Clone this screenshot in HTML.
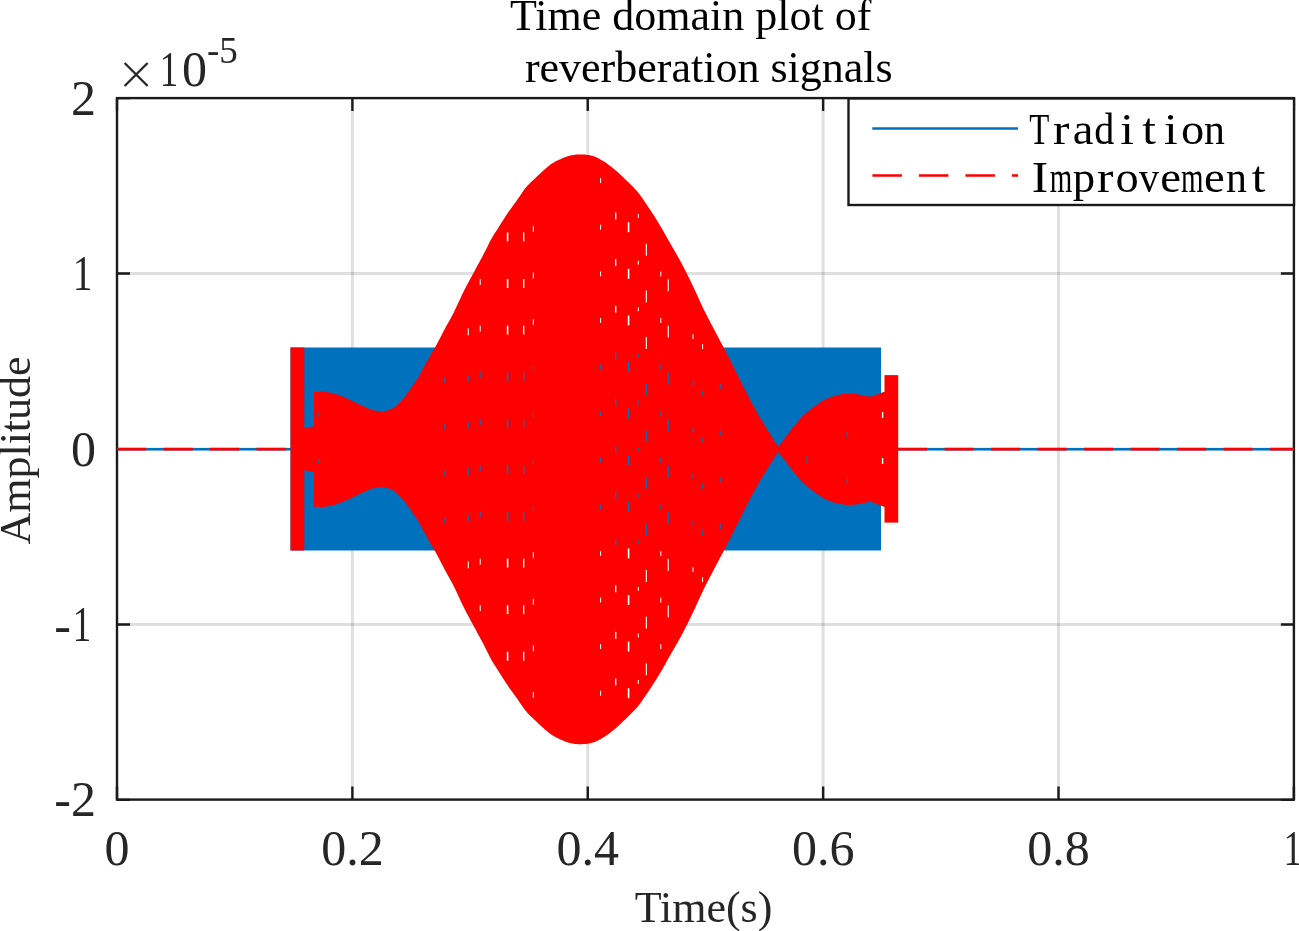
<!DOCTYPE html>
<html><head><meta charset="utf-8"><style>
html,body{margin:0;padding:0;background:#fff;width:1299px;height:931px;overflow:hidden}
svg{position:absolute;left:0;top:0;will-change:transform}
</style></head><body>
<svg width="1299" height="931" viewBox="0 0 1299 931">
<rect x="0" y="0" width="1299" height="931" fill="#fff"/>
<g stroke="rgb(38,38,38)" stroke-opacity="0.15" stroke-width="2.9" fill="none">
<line x1="352.38" y1="98.1" x2="352.38" y2="799.6"/>
<line x1="587.76" y1="98.1" x2="587.76" y2="799.6"/>
<line x1="823.14" y1="98.1" x2="823.14" y2="799.6"/>
<line x1="1058.52" y1="98.1" x2="1058.52" y2="799.6"/>
<line x1="117.0" y1="624.45" x2="1293.9" y2="624.45"/>
<line x1="117.0" y1="449.00" x2="1293.9" y2="449.00"/>
<line x1="117.0" y1="273.55" x2="1293.9" y2="273.55"/>
</g>
<!-- axes -->
<rect x="117.0" y="98.1" width="1176.9" height="701.5" fill="none" stroke="#1a1a1a" stroke-width="2.4"/>
<path d="M117.00 799.6V786.6M117.00 98.1V111.1M352.38 799.6V786.6M352.38 98.1V111.1M587.76 799.6V786.6M587.76 98.1V111.1M823.14 799.6V786.6M823.14 98.1V111.1M1058.52 799.6V786.6M1058.52 98.1V111.1M1293.90 799.6V786.6M1293.90 98.1V111.1M117.0 799.90H130.0M1293.9 799.90H1280.9M117.0 624.45H130.0M1293.9 624.45H1280.9M117.0 273.55H130.0M1293.9 273.55H1280.9M117.0 98.10H130.0M1293.9 98.10H1280.9" stroke="#1a1a1a" stroke-width="2.4" fill="none"/>
<!-- blue signal -->
<line x1="117.0" y1="449.2" x2="1293.9" y2="449.2" stroke="#0072BD" stroke-width="2.4"/>
<rect x="290.5" y="347.5" width="590.5" height="203" fill="#0072BD"/>
<!-- red signal -->
<line x1="117.0" y1="449.2" x2="291" y2="449.2" stroke="#FF0000" stroke-width="2.7" stroke-dasharray="29.3 17.2"/>
<line x1="898.1" y1="449.2" x2="1293.9" y2="449.2" stroke="#FF0000" stroke-width="2.7" stroke-dasharray="29 17.5"/>
<rect x="290.5" y="347.5" width="13.8" height="203" fill="#FF0000"/>
<rect x="884.5" y="375.1" width="13.7" height="147.5" fill="#FF0000"/>
<polygon points="303.6,428.6 313.9,426.3 313.9,392.0 314.9,391.9 315.9,391.9 316.9,391.8 317.9,391.8 318.9,391.7 319.9,391.6 320.9,391.6 321.9,391.6 322.9,391.6 323.9,391.7 324.9,391.8 325.9,391.9 326.9,392.1 327.9,392.3 328.9,392.5 329.9,392.7 330.9,392.9 331.9,393.1 332.9,393.3 333.9,393.6 334.9,393.8 335.9,394.1 336.9,394.5 337.9,394.8 338.9,395.2 339.9,395.6 340.9,396.0 341.9,396.4 342.9,396.8 343.9,397.2 344.9,397.6 345.9,398.0 346.9,398.5 347.9,398.9 348.9,399.4 349.9,399.9 350.9,400.3 351.9,400.8 352.9,401.3 353.9,401.8 354.9,402.3 355.9,402.8 356.9,403.3 357.9,403.8 358.9,404.3 359.9,404.7 360.9,405.2 361.9,405.7 362.9,406.1 363.9,406.6 364.9,407.0 365.9,407.5 366.9,407.9 367.9,408.3 368.9,408.7 369.9,409.1 370.9,409.5 371.9,409.8 372.9,410.0 373.9,410.3 374.9,410.5 375.9,410.7 376.9,410.9 377.9,411.1 378.9,411.3 379.9,411.4 380.9,411.5 381.9,411.6 382.9,411.5 383.9,411.4 384.9,411.2 385.9,410.9 386.9,410.6 387.9,410.3 388.9,409.9 389.9,409.6 390.9,409.2 391.9,408.8 392.9,408.3 393.9,407.7 394.9,407.1 395.9,406.3 396.9,405.4 397.9,404.4 398.9,403.4 399.9,402.4 400.9,401.3 401.9,400.1 402.9,399.0 403.9,397.8 404.9,396.5 405.9,395.2 406.9,393.9 407.9,392.5 408.9,391.0 409.9,389.6 410.9,388.1 411.9,386.7 412.9,385.3 413.9,383.9 414.9,382.5 415.9,381.1 416.9,379.6 417.9,378.0 418.9,376.4 419.9,374.6 420.9,372.7 421.9,370.8 422.9,368.9 423.9,367.0 424.9,365.1 425.9,363.3 426.9,361.4 427.9,359.7 428.9,357.9 429.9,356.2 430.9,354.5 431.9,352.8 432.9,351.1 433.9,349.4 434.9,347.7 435.9,345.9 436.9,344.1 437.9,342.2 438.9,340.3 439.9,338.3 440.9,336.4 441.9,334.4 442.9,332.5 443.9,330.6 444.9,328.7 445.9,326.8 446.9,325.0 447.9,323.2 448.9,321.5 449.9,319.7 450.9,317.9 451.9,316.1 452.9,314.2 453.9,312.2 454.9,310.1 455.9,308.0 456.9,305.8 457.9,303.7 458.9,301.5 459.9,299.4 460.9,297.2 461.9,295.1 462.9,293.1 463.9,291.0 464.9,289.0 465.9,287.1 466.9,285.1 467.9,283.3 468.9,281.4 469.9,279.6 470.9,277.7 471.9,275.9 472.9,274.0 473.9,272.2 474.9,270.3 475.9,268.5 476.9,266.6 477.9,264.7 478.9,262.9 479.9,261.1 480.9,259.2 481.9,257.4 482.9,255.5 483.9,253.6 484.9,251.7 485.9,249.7 486.9,247.7 487.9,245.7 488.9,243.6 489.9,241.6 490.9,239.7 491.9,237.9 492.9,236.2 493.9,234.6 494.9,233.0 495.9,231.5 496.9,229.9 497.9,228.4 498.9,226.8 499.9,225.2 500.9,223.6 501.9,222.0 502.9,220.4 503.9,218.9 504.9,217.3 505.9,215.8 506.9,214.3 507.9,212.8 508.9,211.3 509.9,209.9 510.9,208.5 511.9,207.2 512.9,205.8 513.9,204.4 514.9,203.1 515.9,201.7 516.9,200.3 517.9,198.8 518.9,197.4 519.9,195.9 520.9,194.4 521.9,193.0 522.9,191.5 523.9,190.1 524.9,188.8 525.9,187.5 526.9,186.3 527.9,185.2 528.9,184.2 529.9,183.2 530.9,182.2 531.9,181.3 532.9,180.3 533.9,179.4 534.9,178.4 535.9,177.5 536.9,176.5 537.9,175.6 538.9,174.7 539.9,173.7 540.9,172.8 541.9,171.9 542.9,171.0 543.9,170.1 544.9,169.2 545.9,168.3 546.9,167.5 547.9,166.6 548.9,165.8 549.9,165.0 550.9,164.3 551.9,163.6 552.9,163.0 553.9,162.4 554.9,161.8 555.9,161.3 556.9,160.8 557.9,160.3 558.9,159.8 559.9,159.4 560.9,158.9 561.9,158.5 562.9,158.1 563.9,157.7 564.9,157.3 565.9,156.9 566.9,156.5 567.9,156.2 568.9,155.9 569.9,155.6 570.9,155.4 571.9,155.2 572.9,155.0 573.9,154.9 574.9,154.7 575.9,154.6 576.9,154.5 577.9,154.4 578.9,154.4 579.9,154.4 580.9,154.4 581.9,154.4 582.9,154.5 583.9,154.5 584.9,154.6 585.9,154.7 586.9,154.8 587.9,154.9 588.9,155.1 589.9,155.3 590.9,155.5 591.9,155.8 592.9,156.0 593.9,156.3 594.9,156.7 595.9,157.1 596.9,157.6 597.9,158.1 598.9,158.6 599.9,159.2 600.9,159.7 601.9,160.3 602.9,160.9 603.9,161.5 604.9,162.1 605.9,162.8 606.9,163.5 607.9,164.2 608.9,164.9 609.9,165.7 610.9,166.5 611.9,167.3 612.9,168.1 613.9,168.9 614.9,169.7 615.9,170.5 616.9,171.4 617.9,172.3 618.9,173.2 619.9,174.2 620.9,175.1 621.9,176.0 622.9,177.0 623.9,178.0 624.9,178.9 625.9,179.9 626.9,180.9 627.9,181.8 628.9,182.8 629.9,183.8 630.9,184.8 631.9,185.8 632.9,186.8 633.9,187.8 634.9,188.9 635.9,189.9 636.9,191.0 637.9,192.2 638.9,193.5 639.9,194.8 640.9,196.2 641.9,197.6 642.9,199.1 643.9,200.5 644.9,202.0 645.9,203.4 646.9,204.9 647.9,206.4 648.9,207.9 649.9,209.4 650.9,210.9 651.9,212.5 652.9,214.0 653.9,215.6 654.9,217.1 655.9,218.7 656.9,220.3 657.9,221.9 658.9,223.5 659.9,225.2 660.9,226.9 661.9,228.6 662.9,230.4 663.9,232.1 664.9,233.9 665.9,235.7 666.9,237.5 667.9,239.3 668.9,241.0 669.9,242.8 670.9,244.6 671.9,246.3 672.9,248.1 673.9,249.8 674.9,251.5 675.9,253.3 676.9,255.0 677.9,256.7 678.9,258.5 679.9,260.3 680.9,262.1 681.9,264.0 682.9,265.9 683.9,267.8 684.9,269.8 685.9,271.8 686.9,273.8 687.9,275.7 688.9,277.7 689.9,279.8 690.9,281.8 691.9,283.9 692.9,286.0 693.9,288.1 694.9,290.2 695.9,292.4 696.9,294.6 697.9,296.8 698.9,299.0 699.9,301.2 700.9,303.4 701.9,305.6 702.9,307.7 703.9,309.8 704.9,311.8 705.9,313.8 706.9,315.8 707.9,317.7 708.9,319.6 709.9,321.5 710.9,323.4 711.9,325.3 712.9,327.2 713.9,329.1 714.9,331.0 715.9,332.9 716.9,334.8 717.9,336.7 718.9,338.6 719.9,340.5 720.9,342.4 721.9,344.3 722.9,346.2 723.9,348.1 724.9,350.0 725.9,351.9 726.9,353.9 727.9,355.8 728.9,357.8 729.9,359.8 730.9,361.8 731.9,363.8 732.9,365.7 733.9,367.7 734.9,369.7 735.9,371.7 736.9,373.7 737.9,375.7 738.9,377.7 739.9,379.7 740.9,381.7 741.9,383.7 742.9,385.7 743.9,387.7 744.9,389.7 745.9,391.7 746.9,393.6 747.9,395.6 748.9,397.5 749.9,399.4 750.9,401.3 751.9,403.1 752.9,405.0 753.9,406.8 754.9,408.6 755.9,410.4 756.9,412.2 757.9,414.0 758.9,415.7 759.9,417.5 760.9,419.2 761.9,420.8 762.9,422.5 763.9,424.1 764.9,425.7 765.9,427.3 766.9,428.9 767.9,430.5 768.9,432.2 769.9,433.8 770.9,435.4 771.9,437.1 772.9,438.7 773.9,440.4 774.9,442.0 775.9,443.4 776.9,444.7 777.9,445.7 778.0,447.5 779.0,445.4 780.0,444.4 781.0,443.2 782.0,442.0 783.0,440.7 784.0,439.3 785.0,438.0 786.0,436.6 787.0,435.3 788.0,433.9 789.0,432.6 790.0,431.2 791.0,429.9 792.0,428.6 793.0,427.4 794.0,426.1 795.0,424.9 796.0,423.7 797.0,422.4 798.0,421.2 799.0,420.1 800.0,418.9 801.0,417.8 802.0,416.7 803.0,415.7 804.0,414.8 805.0,413.9 806.0,413.1 807.0,412.3 808.0,411.5 809.0,410.7 810.0,409.9 811.0,409.1 812.0,408.3 813.0,407.6 814.0,406.8 815.0,406.1 816.0,405.4 817.0,404.7 818.0,404.0 819.0,403.3 820.0,402.6 821.0,402.0 822.0,401.3 823.0,400.7 824.0,400.1 825.0,399.6 826.0,399.1 827.0,398.7 828.0,398.3 829.0,397.9 830.0,397.5 831.0,397.1 832.0,396.7 833.0,396.4 834.0,396.0 835.0,395.7 836.0,395.5 837.0,395.2 838.0,395.0 839.0,394.8 840.0,394.6 841.0,394.4 842.0,394.3 843.0,394.1 844.0,394.0 845.0,393.8 846.0,393.8 847.0,393.7 848.0,393.7 849.0,393.7 850.0,393.7 851.0,393.8 852.0,393.8 853.0,393.8 854.0,393.9 855.0,394.0 856.0,394.1 857.0,394.2 858.0,394.4 859.0,394.6 860.0,394.8 861.0,395.0 862.0,395.2 863.0,395.5 864.0,395.7 865.0,395.9 866.0,396.2 867.0,396.3 868.0,396.5 869.0,396.6 870.0,396.6 871.0,396.5 872.0,396.3 873.0,396.0 874.0,395.7 875.0,395.3 876.0,395.0 877.0,394.6 878.0,394.2 879.0,393.7 880.0,393.3 881.0,392.9 882.0,392.5 883.0,392.2 884.0,391.9 885.0,391.7 885.6,391.3 885.6,507.3 885.0,506.9 884.0,506.7 883.0,506.4 882.0,506.1 881.0,505.7 880.0,505.3 879.0,504.9 878.0,504.4 877.0,504.0 876.0,503.6 875.0,503.3 874.0,502.9 873.0,502.6 872.0,502.3 871.0,502.1 870.0,502.0 869.0,502.0 868.0,502.1 867.0,502.3 866.0,502.4 865.0,502.7 864.0,502.9 863.0,503.1 862.0,503.4 861.0,503.6 860.0,503.8 859.0,504.0 858.0,504.2 857.0,504.4 856.0,504.5 855.0,504.6 854.0,504.7 853.0,504.8 852.0,504.8 851.0,504.8 850.0,504.9 849.0,504.9 848.0,504.9 847.0,504.9 846.0,504.8 845.0,504.8 844.0,504.6 843.0,504.5 842.0,504.3 841.0,504.2 840.0,504.0 839.0,503.8 838.0,503.6 837.0,503.4 836.0,503.1 835.0,502.9 834.0,502.6 833.0,502.2 832.0,501.9 831.0,501.5 830.0,501.1 829.0,500.7 828.0,500.3 827.0,499.9 826.0,499.5 825.0,499.0 824.0,498.5 823.0,497.9 822.0,497.3 821.0,496.6 820.0,496.0 819.0,495.3 818.0,494.6 817.0,493.9 816.0,493.2 815.0,492.5 814.0,491.8 813.0,491.0 812.0,490.3 811.0,489.5 810.0,488.7 809.0,487.9 808.0,487.1 807.0,486.3 806.0,485.5 805.0,484.7 804.0,483.8 803.0,482.9 802.0,481.9 801.0,480.8 800.0,479.7 799.0,478.5 798.0,477.4 797.0,476.2 796.0,474.9 795.0,473.7 794.0,472.5 793.0,471.2 792.0,470.0 791.0,468.7 790.0,467.4 789.0,466.0 788.0,464.7 787.0,463.3 786.0,462.0 785.0,460.6 784.0,459.3 783.0,457.9 782.0,456.6 781.0,455.4 780.0,454.2 779.0,453.2 778.0,451.1 777.9,452.9 776.9,453.9 775.9,455.2 774.9,456.6 773.9,458.2 772.9,459.9 771.9,461.5 770.9,463.2 769.9,464.8 768.9,466.4 767.9,468.1 766.9,469.7 765.9,471.3 764.9,472.9 763.9,474.5 762.9,476.1 761.9,477.8 760.9,479.4 759.9,481.1 758.9,482.9 757.9,484.6 756.9,486.4 755.9,488.2 754.9,490.0 753.9,491.8 752.9,493.6 751.9,495.5 750.9,497.3 749.9,499.2 748.9,501.1 747.9,503.0 746.9,505.0 745.9,506.9 744.9,508.9 743.9,510.9 742.9,512.9 741.9,514.9 740.9,516.9 739.9,518.9 738.9,520.9 737.9,522.9 736.9,524.9 735.9,526.9 734.9,528.9 733.9,530.9 732.9,532.9 731.9,534.8 730.9,536.8 729.9,538.8 728.9,540.8 727.9,542.8 726.9,544.7 725.9,546.7 724.9,548.6 723.9,550.5 722.9,552.4 721.9,554.3 720.9,556.2 719.9,558.1 718.9,560.0 717.9,561.9 716.9,563.8 715.9,565.7 714.9,567.6 713.9,569.5 712.9,571.4 711.9,573.3 710.9,575.2 709.9,577.1 708.9,579.0 707.9,580.9 706.9,582.8 705.9,584.8 704.9,586.8 703.9,588.8 702.9,590.9 701.9,593.0 700.9,595.2 699.9,597.4 698.9,599.6 697.9,601.8 696.9,604.0 695.9,606.2 694.9,608.4 693.9,610.5 692.9,612.6 691.9,614.7 690.9,616.8 689.9,618.8 688.9,620.9 687.9,622.9 686.9,624.8 685.9,626.8 684.9,628.8 683.9,630.8 682.9,632.7 681.9,634.6 680.9,636.5 679.9,638.3 678.9,640.1 677.9,641.9 676.9,643.6 675.9,645.3 674.9,647.1 673.9,648.8 672.9,650.5 671.9,652.3 670.9,654.0 669.9,655.8 668.9,657.6 667.9,659.3 666.9,661.1 665.9,662.9 664.9,664.7 663.9,666.5 662.9,668.2 661.9,670.0 660.9,671.7 659.9,673.4 658.9,675.1 657.9,676.7 656.9,678.3 655.9,679.9 654.9,681.5 653.9,683.0 652.9,684.6 651.9,686.1 650.9,687.7 649.9,689.2 648.9,690.7 647.9,692.2 646.9,693.7 645.9,695.2 644.9,696.6 643.9,698.1 642.9,699.5 641.9,701.0 640.9,702.4 639.9,703.8 638.9,705.1 637.9,706.4 636.9,707.6 635.9,708.7 634.9,709.7 633.9,710.8 632.9,711.8 631.9,712.8 630.9,713.8 629.9,714.8 628.9,715.8 627.9,716.8 626.9,717.7 625.9,718.7 624.9,719.7 623.9,720.6 622.9,721.6 621.9,722.6 620.9,723.5 619.9,724.4 618.9,725.4 617.9,726.3 616.9,727.2 615.9,728.1 614.9,728.9 613.9,729.7 612.9,730.5 611.9,731.3 610.9,732.1 609.9,732.9 608.9,733.7 607.9,734.4 606.9,735.1 605.9,735.8 604.9,736.5 603.9,737.1 602.9,737.7 601.9,738.3 600.9,738.9 599.9,739.4 598.9,740.0 597.9,740.5 596.9,741.0 595.9,741.5 594.9,741.9 593.9,742.3 592.9,742.6 591.9,742.8 590.9,743.1 589.9,743.3 588.9,743.5 587.9,743.7 586.9,743.8 585.9,743.9 584.9,744.0 583.9,744.1 582.9,744.1 581.9,744.2 580.9,744.2 579.9,744.2 578.9,744.2 577.9,744.2 576.9,744.1 575.9,744.0 574.9,743.9 573.9,743.7 572.9,743.6 571.9,743.4 570.9,743.2 569.9,743.0 568.9,742.7 567.9,742.4 566.9,742.1 565.9,741.7 564.9,741.3 563.9,740.9 562.9,740.5 561.9,740.1 560.9,739.7 559.9,739.2 558.9,738.8 557.9,738.3 556.9,737.8 555.9,737.3 554.9,736.8 553.9,736.2 552.9,735.6 551.9,735.0 550.9,734.3 549.9,733.6 548.9,732.8 547.9,732.0 546.9,731.1 545.9,730.3 544.9,729.4 543.9,728.5 542.9,727.6 541.9,726.7 540.9,725.8 539.9,724.9 538.9,723.9 537.9,723.0 536.9,722.1 535.9,721.1 534.9,720.2 533.9,719.2 532.9,718.3 531.9,717.3 530.9,716.4 529.9,715.4 528.9,714.4 527.9,713.4 526.9,712.3 525.9,711.1 524.9,709.8 523.9,708.5 522.9,707.1 521.9,705.6 520.9,704.2 519.9,702.7 518.9,701.2 517.9,699.8 516.9,698.3 515.9,696.9 514.9,695.5 513.9,694.2 512.9,692.8 511.9,691.4 510.9,690.1 509.9,688.7 508.9,687.3 507.9,685.8 506.9,684.3 505.9,682.8 504.9,681.3 503.9,679.7 502.9,678.2 501.9,676.6 500.9,675.0 499.9,673.4 498.9,671.8 497.9,670.2 496.9,668.7 495.9,667.1 494.9,665.6 493.9,664.0 492.9,662.4 491.9,660.7 490.9,658.9 489.9,657.0 488.9,655.0 487.9,652.9 486.9,650.9 485.9,648.9 484.9,646.9 483.9,645.0 482.9,643.1 481.9,641.2 480.9,639.4 479.9,637.5 478.9,635.7 477.9,633.9 476.9,632.0 475.9,630.1 474.9,628.3 473.9,626.4 472.9,624.6 471.9,622.7 470.9,620.9 469.9,619.0 468.9,617.2 467.9,615.3 466.9,613.5 465.9,611.5 464.9,609.6 463.9,607.6 462.9,605.5 461.9,603.5 460.9,601.4 459.9,599.2 458.9,597.1 457.9,594.9 456.9,592.8 455.9,590.6 454.9,588.5 453.9,586.4 452.9,584.4 451.9,582.5 450.9,580.7 449.9,578.9 448.9,577.1 447.9,575.4 446.9,573.6 445.9,571.8 444.9,569.9 443.9,568.0 442.9,566.1 441.9,564.2 440.9,562.2 439.9,560.3 438.9,558.3 437.9,556.4 436.9,554.5 435.9,552.7 434.9,550.9 433.9,549.2 432.9,547.5 431.9,545.8 430.9,544.1 429.9,542.4 428.9,540.7 427.9,538.9 426.9,537.2 425.9,535.3 424.9,533.5 423.9,531.6 422.9,529.7 421.9,527.8 420.9,525.9 419.9,524.0 418.9,522.2 417.9,520.6 416.9,519.0 415.9,517.5 414.9,516.1 413.9,514.7 412.9,513.3 411.9,511.9 410.9,510.5 409.9,509.0 408.9,507.6 407.9,506.1 406.9,504.7 405.9,503.4 404.9,502.1 403.9,500.8 402.9,499.6 401.9,498.5 400.9,497.3 399.9,496.2 398.9,495.2 397.9,494.2 396.9,493.2 395.9,492.3 394.9,491.5 393.9,490.9 392.9,490.3 391.9,489.8 390.9,489.4 389.9,489.0 388.9,488.7 387.9,488.3 386.9,488.0 385.9,487.7 384.9,487.4 383.9,487.2 382.9,487.1 381.9,487.0 380.9,487.1 379.9,487.2 378.9,487.3 377.9,487.5 376.9,487.7 375.9,487.9 374.9,488.1 373.9,488.3 372.9,488.6 371.9,488.8 370.9,489.1 369.9,489.5 368.9,489.9 367.9,490.3 366.9,490.7 365.9,491.1 364.9,491.6 363.9,492.0 362.9,492.5 361.9,492.9 360.9,493.4 359.9,493.9 358.9,494.3 357.9,494.8 356.9,495.3 355.9,495.8 354.9,496.3 353.9,496.8 352.9,497.3 351.9,497.8 350.9,498.3 349.9,498.7 348.9,499.2 347.9,499.7 346.9,500.1 345.9,500.6 344.9,501.0 343.9,501.4 342.9,501.8 341.9,502.2 340.9,502.6 339.9,503.0 338.9,503.4 337.9,503.8 336.9,504.1 335.9,504.5 334.9,504.8 333.9,505.0 332.9,505.3 331.9,505.5 330.9,505.7 329.9,505.9 328.9,506.1 327.9,506.3 326.9,506.5 325.9,506.7 324.9,506.8 323.9,506.9 322.9,507.0 321.9,507.0 320.9,507.0 319.9,507.0 318.9,506.9 317.9,506.8 316.9,506.8 315.9,506.7 314.9,506.7 313.9,506.6 313.9,472.3 303.6,470.0" fill="#FF0000"/>
<rect x="444.3" y="377.2" width="1" height="6" fill="#0072BD"/>
<rect x="444.3" y="423.8" width="1" height="6" fill="#0072BD"/>
<rect x="444.3" y="470.4" width="1" height="6" fill="#0072BD"/>
<rect x="444.3" y="517.0" width="1" height="6" fill="#0072BD"/>
<rect x="467.8" y="328.3" width="1" height="7" fill="#fff"/>
<rect x="467.8" y="374.9" width="1" height="7" fill="#0072BD"/>
<rect x="467.8" y="421.5" width="1" height="7" fill="#0072BD"/>
<rect x="467.8" y="468.1" width="1" height="7" fill="#0072BD"/>
<rect x="467.8" y="514.7" width="1" height="7" fill="#0072BD"/>
<rect x="467.8" y="561.3" width="1" height="7" fill="#fff"/>
<rect x="479.7" y="279.0" width="1" height="6" fill="#fff"/>
<rect x="479.7" y="325.6" width="1" height="6" fill="#fff"/>
<rect x="479.7" y="372.2" width="1" height="6" fill="#0072BD"/>
<rect x="479.7" y="418.8" width="1" height="6" fill="#0072BD"/>
<rect x="479.7" y="465.4" width="1" height="6" fill="#0072BD"/>
<rect x="479.7" y="512.0" width="1" height="6" fill="#0072BD"/>
<rect x="479.7" y="558.6" width="1" height="6" fill="#fff"/>
<rect x="479.7" y="605.2" width="1" height="6" fill="#fff"/>
<rect x="506.8" y="232.4" width="1.6" height="9" fill="#fff"/>
<rect x="506.8" y="279.0" width="1.6" height="9" fill="#fff"/>
<rect x="506.8" y="325.6" width="1.6" height="9" fill="#fff"/>
<rect x="506.8" y="372.2" width="1.6" height="9" fill="#0072BD"/>
<rect x="506.8" y="418.8" width="1.6" height="9" fill="#0072BD"/>
<rect x="506.8" y="465.4" width="1.6" height="9" fill="#0072BD"/>
<rect x="506.8" y="512.0" width="1.6" height="9" fill="#0072BD"/>
<rect x="506.8" y="558.6" width="1.6" height="9" fill="#fff"/>
<rect x="506.8" y="605.2" width="1.6" height="9" fill="#fff"/>
<rect x="506.8" y="651.8" width="1.6" height="9" fill="#fff"/>
<rect x="523.1" y="232.4" width="1.3" height="9" fill="#fff"/>
<rect x="523.1" y="279.0" width="1.3" height="9" fill="#fff"/>
<rect x="523.1" y="325.6" width="1.3" height="9" fill="#fff"/>
<rect x="523.1" y="372.2" width="1.3" height="9" fill="#0072BD"/>
<rect x="523.1" y="418.8" width="1.3" height="9" fill="#0072BD"/>
<rect x="523.1" y="465.4" width="1.3" height="9" fill="#0072BD"/>
<rect x="523.1" y="512.0" width="1.3" height="9" fill="#0072BD"/>
<rect x="523.1" y="558.6" width="1.3" height="9" fill="#fff"/>
<rect x="523.1" y="605.2" width="1.3" height="9" fill="#fff"/>
<rect x="523.1" y="651.8" width="1.3" height="9" fill="#fff"/>
<rect x="532.8" y="225.9" width="1" height="6" fill="#fff"/>
<rect x="532.8" y="272.5" width="1" height="6" fill="#fff"/>
<rect x="532.8" y="319.1" width="1" height="6" fill="#fff"/>
<rect x="532.8" y="365.7" width="1" height="6" fill="#0072BD"/>
<rect x="532.8" y="412.3" width="1" height="6" fill="#0072BD"/>
<rect x="532.8" y="458.9" width="1" height="6" fill="#0072BD"/>
<rect x="532.8" y="505.5" width="1" height="6" fill="#0072BD"/>
<rect x="532.8" y="552.1" width="1" height="6" fill="#fff"/>
<rect x="532.8" y="598.7" width="1" height="6" fill="#fff"/>
<rect x="532.8" y="645.3" width="1" height="6" fill="#fff"/>
<rect x="532.8" y="691.9" width="1" height="6" fill="#fff"/>
<rect x="600.1" y="178.1" width="1" height="5" fill="#fff"/>
<rect x="600.1" y="224.7" width="1" height="5" fill="#fff"/>
<rect x="600.1" y="271.3" width="1" height="5" fill="#fff"/>
<rect x="600.1" y="317.9" width="1" height="5" fill="#fff"/>
<rect x="600.1" y="364.5" width="1" height="5" fill="#0072BD"/>
<rect x="600.1" y="411.1" width="1" height="5" fill="#0072BD"/>
<rect x="600.1" y="457.7" width="1" height="5" fill="#0072BD"/>
<rect x="600.1" y="504.3" width="1" height="5" fill="#0072BD"/>
<rect x="600.1" y="550.9" width="1" height="5" fill="#fff"/>
<rect x="600.1" y="597.5" width="1" height="5" fill="#fff"/>
<rect x="600.1" y="644.1" width="1" height="5" fill="#fff"/>
<rect x="600.1" y="690.7" width="1" height="5" fill="#fff"/>
<rect x="615.1" y="212.5" width="1.3" height="7" fill="#fff"/>
<rect x="615.1" y="259.1" width="1.3" height="7" fill="#fff"/>
<rect x="615.1" y="305.7" width="1.3" height="7" fill="#fff"/>
<rect x="615.1" y="352.3" width="1.3" height="7" fill="#0072BD"/>
<rect x="615.1" y="398.9" width="1.3" height="7" fill="#0072BD"/>
<rect x="615.1" y="445.5" width="1.3" height="7" fill="#0072BD"/>
<rect x="615.1" y="492.1" width="1.3" height="7" fill="#0072BD"/>
<rect x="615.1" y="538.7" width="1.3" height="7" fill="#0072BD"/>
<rect x="615.1" y="585.3" width="1.3" height="7" fill="#fff"/>
<rect x="615.1" y="631.9" width="1.3" height="7" fill="#fff"/>
<rect x="615.1" y="678.5" width="1.3" height="7" fill="#fff"/>
<rect x="627.8" y="222.2" width="1.6" height="10" fill="#fff"/>
<rect x="627.8" y="268.8" width="1.6" height="10" fill="#fff"/>
<rect x="627.8" y="315.4" width="1.6" height="10" fill="#fff"/>
<rect x="627.8" y="362.0" width="1.6" height="10" fill="#0072BD"/>
<rect x="627.8" y="408.6" width="1.6" height="10" fill="#0072BD"/>
<rect x="627.8" y="455.2" width="1.6" height="10" fill="#0072BD"/>
<rect x="627.8" y="501.8" width="1.6" height="10" fill="#0072BD"/>
<rect x="627.8" y="548.4" width="1.6" height="10" fill="#fff"/>
<rect x="627.8" y="595.0" width="1.6" height="10" fill="#fff"/>
<rect x="627.8" y="641.6" width="1.6" height="10" fill="#fff"/>
<rect x="627.8" y="688.2" width="1.6" height="10" fill="#fff"/>
<rect x="637.8" y="214.0" width="1" height="4" fill="#fff"/>
<rect x="637.8" y="260.6" width="1" height="4" fill="#fff"/>
<rect x="637.8" y="307.2" width="1" height="4" fill="#fff"/>
<rect x="637.8" y="353.8" width="1" height="4" fill="#0072BD"/>
<rect x="637.8" y="400.4" width="1" height="4" fill="#0072BD"/>
<rect x="637.8" y="447.0" width="1" height="4" fill="#0072BD"/>
<rect x="637.8" y="493.6" width="1" height="4" fill="#0072BD"/>
<rect x="637.8" y="540.2" width="1" height="4" fill="#0072BD"/>
<rect x="637.8" y="586.8" width="1" height="4" fill="#fff"/>
<rect x="637.8" y="633.4" width="1" height="4" fill="#fff"/>
<rect x="637.8" y="680.0" width="1" height="4" fill="#fff"/>
<rect x="645.8" y="243.8" width="1.1" height="12" fill="#fff"/>
<rect x="645.8" y="290.4" width="1.1" height="12" fill="#fff"/>
<rect x="645.8" y="337.0" width="1.1" height="12" fill="#fff"/>
<rect x="645.8" y="383.6" width="1.1" height="12" fill="#0072BD"/>
<rect x="645.8" y="430.2" width="1.1" height="12" fill="#0072BD"/>
<rect x="645.8" y="476.8" width="1.1" height="12" fill="#0072BD"/>
<rect x="645.8" y="523.4" width="1.1" height="12" fill="#0072BD"/>
<rect x="645.8" y="570.0" width="1.1" height="12" fill="#fff"/>
<rect x="645.8" y="616.6" width="1.1" height="12" fill="#fff"/>
<rect x="645.8" y="663.2" width="1.1" height="12" fill="#fff"/>
<rect x="660.3" y="271.4" width="1" height="5" fill="#fff"/>
<rect x="660.3" y="318.0" width="1" height="5" fill="#fff"/>
<rect x="660.3" y="364.6" width="1" height="5" fill="#0072BD"/>
<rect x="660.3" y="411.2" width="1" height="5" fill="#0072BD"/>
<rect x="660.3" y="457.8" width="1" height="5" fill="#0072BD"/>
<rect x="660.3" y="504.4" width="1" height="5" fill="#0072BD"/>
<rect x="660.3" y="551.0" width="1" height="5" fill="#fff"/>
<rect x="660.3" y="597.6" width="1" height="5" fill="#fff"/>
<rect x="660.3" y="644.2" width="1" height="5" fill="#fff"/>
<rect x="667.7" y="279.2" width="1.1" height="12" fill="#fff"/>
<rect x="667.7" y="325.8" width="1.1" height="12" fill="#fff"/>
<rect x="667.7" y="372.4" width="1.1" height="12" fill="#0072BD"/>
<rect x="667.7" y="419.0" width="1.1" height="12" fill="#0072BD"/>
<rect x="667.7" y="465.6" width="1.1" height="12" fill="#0072BD"/>
<rect x="667.7" y="512.2" width="1.1" height="12" fill="#0072BD"/>
<rect x="667.7" y="558.8" width="1.1" height="12" fill="#fff"/>
<rect x="667.7" y="605.4" width="1.1" height="12" fill="#fff"/>
<rect x="692.5" y="334.1" width="1" height="5" fill="#fff"/>
<rect x="692.5" y="380.7" width="1" height="5" fill="#0072BD"/>
<rect x="692.5" y="427.3" width="1" height="5" fill="#0072BD"/>
<rect x="692.5" y="473.9" width="1" height="5" fill="#0072BD"/>
<rect x="692.5" y="520.5" width="1" height="5" fill="#0072BD"/>
<rect x="692.5" y="567.1" width="1" height="5" fill="#fff"/>
<rect x="702.1" y="344.1" width="1" height="5" fill="#fff"/>
<rect x="702.1" y="390.7" width="1" height="5" fill="#0072BD"/>
<rect x="702.1" y="437.3" width="1" height="5" fill="#0072BD"/>
<rect x="702.1" y="483.9" width="1" height="5" fill="#0072BD"/>
<rect x="702.1" y="530.5" width="1" height="5" fill="#0072BD"/>
<rect x="702.1" y="577.1" width="1" height="5" fill="#fff"/>
<rect x="719.8" y="384.1" width="1" height="5" fill="#0072BD"/>
<rect x="719.8" y="430.7" width="1" height="5" fill="#0072BD"/>
<rect x="719.8" y="477.3" width="1" height="5" fill="#0072BD"/>
<rect x="719.8" y="523.9" width="1" height="5" fill="#0072BD"/>
<rect x="881.9" y="412.0" width="1.4" height="6" fill="#fff"/>
<rect x="881.9" y="458.0" width="1.4" height="6" fill="#fff"/>
<rect x="846.4" y="432.1" width="1.2" height="5" fill="#0072BD"/>
<rect x="846.4" y="478.9" width="1.2" height="5" fill="#0072BD"/>
<rect x="806.5" y="456.0" width="1" height="8" fill="#0072BD"/>
<rect x="318.2" y="412.6" width="1.3" height="4" fill="#0072BD"/>
<rect x="318.2" y="459.2" width="1.3" height="4" fill="#0072BD"/>
<!-- legend -->
<rect x="848.5" y="98.5" width="445.5" height="106.5" fill="#fff" stroke="#1a1a1a" stroke-width="2.4"/>
<line x1="872.3" y1="128.5" x2="1018" y2="128.5" stroke="#0072BD" stroke-width="2.5"/>
<line x1="872.4" y1="175.4" x2="1018" y2="175.4" stroke="#FF0000" stroke-width="2.5" stroke-dasharray="29.5 17"/>
<g font-family="'Liberation Serif', serif" font-size="44" fill="#000" text-anchor="middle">
<text transform="translate(1039.00,144.3) scale(0.748,1)" x="0.44" y="0">T</text>
<text transform="translate(1060.87,144.3) scale(1.120,1)" x="0.33" y="0">r</text>
<text transform="translate(1082.74,144.3) scale(1.056,1)" x="0.27" y="0">a</text>
<text transform="translate(1104.61,144.3) scale(0.910,1)" x="-0.50" y="0">d</text>
<text transform="translate(1126.48,144.3) scale(1.120,1)" x="0.61" y="0">i</text>
<text transform="translate(1148.35,144.3) scale(1.120,1)" x="0.61" y="0">t</text>
<text transform="translate(1170.22,144.3) scale(1.120,1)" x="0.61" y="0">i</text>
<text transform="translate(1192.09,144.3) scale(1.056,1)" x="0.50" y="0">o</text>
<text transform="translate(1213.96,144.3) scale(0.950,1)" x="0.50" y="0">n</text>
<text transform="translate(1039.10,191.8) scale(1.120,1)" x="0.83" y="0">I</text>
<text transform="translate(1060.97,191.8) scale(0.658,1)" x="0.11" y="0">m</text>
<text transform="translate(1082.84,191.8) scale(1.016,1)" x="1.00" y="0">p</text>
<text transform="translate(1104.71,191.8) scale(1.120,1)" x="0.33" y="0">r</text>
<text transform="translate(1126.58,191.8) scale(1.056,1)" x="0.50" y="0">o</text>
<text transform="translate(1148.45,191.8) scale(0.909,1)" x="0.50" y="0">v</text>
<text transform="translate(1170.32,191.8) scale(1.062,1)" x="0.27" y="0">e</text>
<text transform="translate(1192.19,191.8) scale(0.658,1)" x="0.11" y="0">m</text>
<text transform="translate(1214.06,191.8) scale(1.062,1)" x="0.27" y="0">e</text>
<text transform="translate(1235.93,191.8) scale(0.950,1)" x="0.50" y="0">n</text>
<text transform="translate(1257.80,191.8) scale(1.120,1)" x="0.61" y="0">t</text>
</g>
<g font-family="'Liberation Serif', serif" font-size="50" fill="#262626">
<text x="117.00" y="865" text-anchor="middle">0</text>
<text x="352.38" y="865" text-anchor="middle">0.2</text>
<text x="587.76" y="865" text-anchor="middle">0.4</text>
<text x="823.14" y="865" text-anchor="middle">0.6</text>
<text x="1058.52" y="865" text-anchor="middle">0.8</text>
<text transform="translate(1293.20,865.00) scale(0.74,1)" x="-0.7" y="0" text-anchor="middle">1</text>
<text x="96" y="114.60" text-anchor="end">2</text>
<text x="96" y="465.50" text-anchor="end">0</text>
<text x="96" y="816.40" text-anchor="end">-2</text>
<text transform="translate(83.20,290.05) scale(0.79,1)" x="-0.7" y="0" text-anchor="middle">1</text>
<text x="71" y="641.65" text-anchor="end">-</text>
<text transform="translate(82.50,640.95) scale(0.74,1)" x="-0.7" y="0" text-anchor="middle">1</text>
</g>
<g font-family="'Liberation Serif', serif" fill="#262626">
<path d="M124.6 63L147.6 86M147.6 63L124.6 86" stroke="#262626" stroke-width="2.3" fill="none"/>
<text transform="translate(169.5,86) scale(0.74,1)" x="-0.7" y="0" font-size="50" text-anchor="middle">1</text>
<text x="182" y="86" font-size="50">0</text>
<text x="207" y="62.9" font-size="37">-5</text>
<text x="703.5" y="921.7" font-size="44" text-anchor="middle">Time(s)</text>
<text transform="translate(30,450.5) rotate(-90)" font-size="44" text-anchor="middle">Amplitude</text>
</g>
<g font-family="'Liberation Serif', serif" font-size="44" fill="#000">
<text x="690.7" y="30.1" text-anchor="middle">Time domain plot of</text>
<text x="708.75" y="82.1" text-anchor="middle">reverberation signals</text>
</g>
</svg>
</body></html>
